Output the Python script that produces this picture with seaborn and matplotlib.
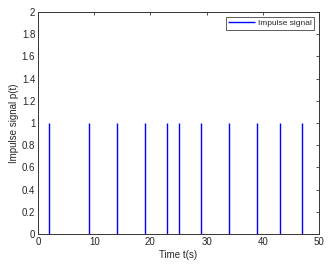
import matplotlib
matplotlib.use("Agg")
import matplotlib.pyplot as plt
import seaborn as sns
import numpy as np

times = [2, 9, 14, 19, 23, 25, 29, 34, 39, 43, 47]
amplitudes = [1, 1, 1, 1, 1, 1, 1, 1, 1, 1, 1]
xticks = [0, 10, 20, 30, 40, 50]
yticks = [0, 0.2, 0.4, 0.6, 0.8, 1, 1.2, 1.4, 1.6, 1.8, 2]

sns.set_style("white")
plt.rcParams['font.family'] = ['Liberation Sans', 'DejaVu Sans']

fig = plt.figure(figsize=(3.36, 2.69), dpi=100)
ax = fig.add_axes([38/336, 1-234/269, (319-38)/336, (234-12)/269])

ax.vlines(times, 0, amplitudes, colors='#0000ff', linewidth=1.0, label='Impulse signal')
ax.set_xlim(0, 50)
ax.set_ylim(0, 2)
ax.set_xticks(xticks)
ax.set_yticks(yticks)
ax.set_xticklabels([str(v) for v in xticks])
ax.set_yticklabels([('%g' % v) for v in yticks])
ax.tick_params(direction='in', length=2.5, width=0.6, labelsize=7, top=True, right=True,
               labeltop=False, labelright=False, color='#333333', pad=2)
for s in ax.spines.values():
    s.set_linewidth(0.7)
    s.set_color('#333333')
    s.set_visible(True)
ax.set_xlabel('Time t(s)', fontsize=7, labelpad=2)
ax.set_ylabel('Impulse signal p(t)', fontsize=7, labelpad=2)

leg = ax.legend(loc='upper right', fontsize=6, frameon=True, fancybox=False,
                handlelength=3.2, borderpad=0.3, borderaxespad=0.6, handletextpad=0.3)
leg.get_frame().set_edgecolor('#333333')
leg.get_frame().set_linewidth(0.7)
for h in leg.legend_handles:
    h.set_linewidth(1.0)

fig.savefig('out.png', dpi=100)
